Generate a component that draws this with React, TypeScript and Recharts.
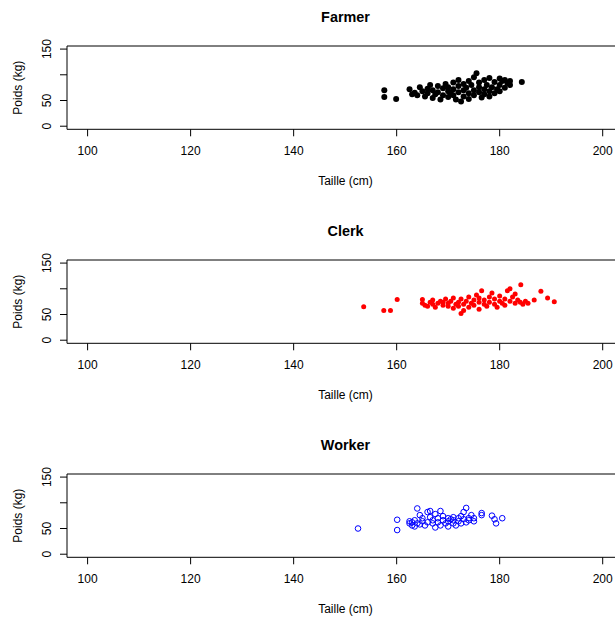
import { ScatterChart, Scatter, XAxis, YAxis, ReferenceArea } from "recharts"

const font = "'Liberation Sans', Arial, Helvetica, sans-serif"

const xTicks = [100, 120, 140, 160, 180, 200]
const yTicks = [0, 50, 100, 150]
// R drops "100" because it would overlap its neighbours
const yTickLabels = ["0", "50", "", "150"]

// [taille (cm), poids (kg)]
const farmerPoints: [number, number][] = [
  [157.6, 70], [157.6, 57], [159.9, 53], [184.3, 86],
  [162.5, 72], [163, 62], [163.5, 65], [164, 60], [164.5, 76], [165, 68],
  [165.5, 58], [166, 73], [166, 64], [166.5, 80], [167, 55], [167, 70],
  [167.5, 62], [168, 78], [168, 66], [168.5, 52], [169, 74], [169, 60],
  [169.5, 82], [170, 68], [170, 57], [170, 76], [170.5, 64], [171, 85],
  [171, 72], [171, 60], [171.5, 52], [172, 78], [172, 66], [172, 90],
  [172.5, 48], [173, 70], [173, 82], [173, 58], [173.5, 75], [174, 64],
  [174, 88], [174, 53], [174.5, 80], [175, 70], [175, 95], [175, 60],
  [175.5, 103], [176, 76], [176, 66], [176, 85], [176.5, 56], [177, 72],
  [177, 90], [177, 62], [177.5, 80], [178, 68], [178, 94], [178, 58],
  [178.5, 76], [179, 86], [179, 64], [179.5, 72], [180, 93], [180, 80],
  [180, 68], [180.5, 88], [181, 75], [181, 90], [181.5, 84], [182, 80],
  [182, 88],
]

const clerkPoints: [number, number][] = [
  [153.6, 65], [157.5, 58], [158.8, 58], [160.1, 79], [188, 95], [189.3, 82],
  [190.6, 75], [184.1, 108],
  [165, 79], [165, 72], [165.5, 68], [166, 66], [166.5, 74], [167, 70],
  [167, 78], [167.5, 64], [168, 72], [168.5, 76], [169, 68], [169, 74],
  [169.5, 80], [170, 66], [170, 72], [170.5, 76], [171, 62], [171, 82],
  [171.5, 70], [172, 74], [172, 66], [172.5, 52], [172.5, 80], [173, 70],
  [173, 58], [173.5, 76], [174, 84], [174, 64], [174.5, 72], [175, 78],
  [175, 68], [175.5, 88], [176, 74], [176, 60], [176, 82], [176.5, 96],
  [177, 70], [177, 78], [177.5, 66], [178, 84], [178, 74], [178.5, 92],
  [179, 70], [179, 80], [179.5, 64], [180, 76], [180, 86], [180.5, 72],
  [181, 80], [181, 68], [181.5, 96], [182, 76], [182, 100], [182.5, 84],
  [183, 72], [183, 90], [183.5, 78], [184, 74], [184.5, 70], [185, 76],
  [185.5, 72], [186.7, 78],
]

const workerPoints: [number, number][] = [
  [152.5, 50], [160.1, 67], [160.1, 47],
  [162.5, 60], [162.5, 64], [163, 56], [163, 62], [163.5, 66], [163.5, 54],
  [164, 89], [164, 60], [164.5, 58], [164.5, 76], [165, 64], [165, 70],
  [165.5, 56], [166, 82], [166, 62], [166.5, 72], [166.5, 84], [167, 60],
  [167, 66], [167.5, 52], [167.5, 78], [168, 70], [168, 62], [168.5, 84],
  [168.5, 56], [169, 66], [169, 74], [169.5, 60], [170, 70], [170, 64],
  [170, 54], [170.5, 68], [171, 72], [171, 60], [171, 66], [171.5, 56],
  [172, 70], [172, 64], [172.5, 74], [172.5, 60], [173, 68], [173, 82],
  [173.5, 90], [173.5, 62], [174, 70], [174, 66], [174.5, 76], [175, 64],
  [175, 70], [176.5, 80], [176.5, 76], [178.5, 75], [179.3, 60], [179, 68],
  [180.5, 70],
]

const YTick = (props: any) => {
  const { y, payload } = props
  const label = yTickLabels[yTicks.indexOf(payload.value)]
  if (!label) return <g />
  return (
    <text
      x={51.5}
      y={y}
      transform={`rotate(-90, 51.5, ${y})`}
      textAnchor="middle"
      fontSize={12}
      fontFamily={font}
      fill="#000"
    >
      {label}
    </text>
  )
}

function Panel({ title, points, color, filled, top }: any) {
  const data = points.map(([taille, poids]: [number, number]) => ({ taille, poids }))
  const dot = (p: any) =>
    filled ? (
      <circle cx={p.cx} cy={p.cy} r={filled === "small" ? 2.5 : 3} fill={color} />
    ) : (
      <circle cx={p.cx} cy={p.cy} r={2.8} fill="none" stroke={color} strokeWidth={1} />
    )

  return (
    <div style={{ position: "absolute", left: 0, top, width: 640, height: 214 }}>
      <ScatterChart width={640} height={214} margin={{ top: 46, right: 16.7, bottom: 54.7, left: 37 }}>
        <XAxis
          type="number"
          dataKey="taille"
          domain={[96, 204]}
          ticks={xTicks}
          interval={0}
          allowDataOverflow
          height={30}
          axisLine={false}
          tickSize={7}
          tickMargin={10}
          tickLine={{ stroke: "#000" }}
          tick={{ fill: "#000", fontSize: 12, fontFamily: font }}
        />
        <YAxis
          type="number"
          dataKey="poids"
          domain={[-6, 156]}
          ticks={yTicks}
          interval={0}
          allowDataOverflow
          width={30}
          axisLine={false}
          tickSize={7}
          tickLine={{ stroke: "#000" }}
          tick={<YTick />}
        />
        <ReferenceArea x1={96} x2={204} y1={-6} y2={156} fill="none" stroke="#000" ifOverflow="visible" />
        <Scatter data={data} isAnimationActive={false} shape={dot} />
      </ScatterChart>
      <svg
        width={640}
        height={214}
        style={{ position: "absolute", left: 0, top: 0, pointerEvents: "none" }}
      >
        <text x={345.5} y={22} textAnchor="middle" fontSize={14.4} fontWeight="bold" fontFamily={font} fill="#000">
          {title}
        </text>
        <text x={345.5} y={185} textAnchor="middle" fontSize={12} fontFamily={font} fill="#000">
          Taille (cm)
        </text>
        <text
          x={22.5}
          y={87.7}
          transform="rotate(-90, 22.5, 87.7)"
          textAnchor="middle"
          fontSize={12}
          fontFamily={font}
          fill="#000"
        >
          Poids (kg)
        </text>
      </svg>
    </div>
  )
}

export default function App() {
  return (
    <div
      style={{
        position: "absolute",
        left: 0,
        top: 0,
        width: 615,
        height: 619,
        overflow: "hidden",
        background: "#fff",
      }}
    >
      <Panel title="Farmer" points={farmerPoints} color="#000" filled top={0} />
      <Panel title="Clerk" points={clerkPoints} color="#ff0000" filled="small" top={214} />
      <Panel title="Worker" points={workerPoints} color="#0000ff" filled={false} top={428} />
    </div>
  )
}
